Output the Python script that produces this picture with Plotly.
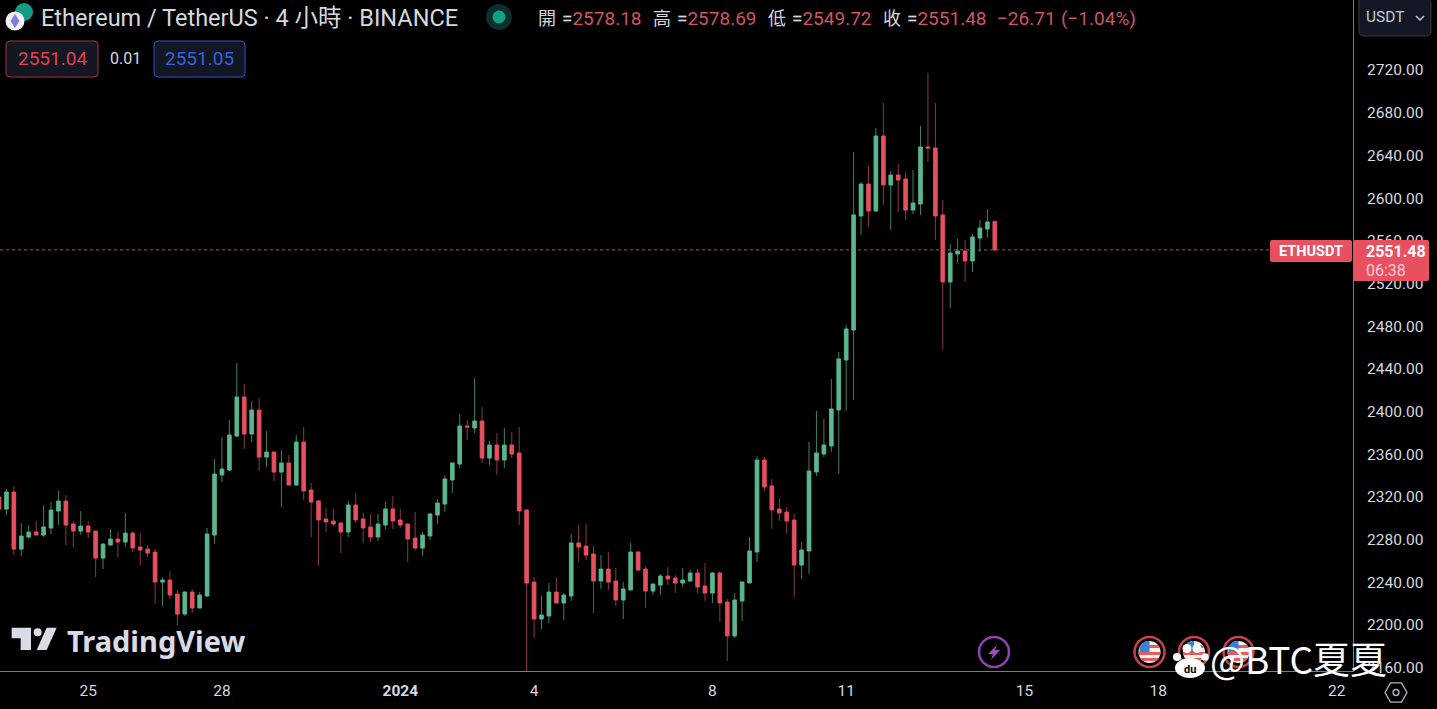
import math
import pandas as pd
import plotly.graph_objects as go

# ---- data ----
opens = [2319.9,2308.6,2324.5,2271.1,2282.4,2287.1,2284.3,2290.8,2306.7,2316.1,2294.6,2288.0,2292.7,2288.0,2262.7,2274.9,2280.5,2277.7,2286.1,2273.0,
2271.1,2268.3,2240.2,2242.1,2229.0,2210.2,2230.9,2215.9,2227.1,2284.3,2340.5,2345.2,2377.0,2413.6,2378.9,2401.4,
2357.4,2362.1,2343.3,2351.8,2331.1,2371.4,2326.5,2316.2,2299.3,2297.4,2295.5,2287.1,2312.4,2299.3,2291.8,2282.4,2293.7,2308.7,2298.4,2294.6,2281.5,2272.1,2283.4,2303.0,2313.3,2335.8,2350.8,2386.4,2384.6,2391.1,2356.4,2368.6,2354.6,2368.6,2361.1,
2307.7,2240.2,2205.6,2208.4,2230.9,2220.6,2227.1,2276.8,2274.0,2266.5,2241.2,2252.4,2241.2,2223.4,2232.8,2268.4,2252.4,2231.8,2237.4,2245.9,2244.0,2239.3,2241.2,2248.7,2236.5,2229.9,2248.7,2221.5,2189.7,2222.4,
2239.4,2268.4,2354.6,2330.3,2308.7,2305.9,2298.4,2256.2,2269.4,2343.4,2360.2,2367.7,2401.5,2448.3,
2476.4,2583.2,2613.2,2587.9,2658.2,2612.3,2621.6,2617.9,2588.8,2594.5,2647.9,2646.9,2584.2,2521.4,2547.6,2550.4,2541.1,2562.6,2571.0,2578.18]
highs = [2321.7,2327.4,2330.2,2295.5,2293.6,2297.4,2312.4,2315.2,2325.5,2321.7,2297.4,2306.7,2297.4,2288.0,2276.8,2289.9,2287.1,2304.9,2288.0,2286.1,
2274.9,2271.1,2244.9,2250.5,2232.7,2231.8,2233.7,2230.9,2290.8,2355.5,2376.1,2392.0,2445.4,2425.7,2409.8,2412.6,
2381.7,2362.1,2363.9,2359.3,2378.0,2385.5,2333.0,2317.1,2309.6,2308.7,2296.5,2316.2,2322.7,2304.9,2304.0,2304.0,2315.2,2320.8,2308.7,2295.5,2305.8,2287.1,2304.9,2318.0,2340.5,2351.8,2397.7,2392.1,2431.4,2404.2,2372.4,2379.9,2384.6,2380.8,2385.5,
2308.6,2244.9,2227.1,2239.3,2244.9,2229.9,2285.2,2293.7,2294.6,2274.0,2265.5,2268.4,2253.4,2240.2,2276.8,2269.3,2255.2,2238.4,2247.7,2254.3,2246.8,2253.4,2251.5,2252.4,2258.1,2249.6,2250.6,2224.3,2229.9,2241.2,
2282.5,2358.4,2357.4,2336.8,2319.0,2310.6,2304.0,2277.8,2371.5,2400.5,2393.0,2430.5,2455.8,2481.1,
2643.2,2615.1,2630.1,2665.7,2689.1,2625.4,2631.9,2624.4,2626.3,2667.5,2717.2,2689.1,2598.2,2557.0,2561.7,2560.7,2566.3,2579.5,2589.8,2578.69]
lows = [2307.7,2303.0,2265.5,2264.6,2280.5,2284.3,2282.4,2285.2,2293.6,2274.9,2273.0,2284.3,2281.4,2244.9,2252.4,2274.9,2263.6,2273.0,2268.3,2256.1,
2263.6,2219.6,2217.7,2224.3,2199.9,2208.4,2211.2,2215.9,2226.2,2275.8,2333.9,2344.2,2376.1,2364.8,2371.4,2344.2,
2348.0,2334.9,2310.5,2331.1,2331.1,2317.1,2282.4,2255.3,2287.1,2292.7,2267.4,2282.4,2295.5,2276.8,2277.7,2278.7,2289.9,2289.9,2290.9,2259.0,2270.2,2264.6,2279.6,2294.6,2305.8,2323.7,2347.1,2373.3,2379.9,2351.8,2349.9,2340.5,2347.1,2356.4,2293.7,
2150.0,2187.8,2196.2,2201.8,2220.6,2204.6,2222.4,2259.0,2260.9,2211.2,2233.7,2232.8,2217.8,2205.6,2232.8,2249.6,2215.9,2228.1,2228.1,2237.4,2229.9,2235.6,2240.2,2229.9,2222.4,2220.6,2202.8,2166.2,2187.8,2203.7,
2239.4,2259.0,2325.6,2290.0,2297.5,2285.3,2226.3,2243.1,2247.8,2339.6,2357.4,2362.1,2341.5,2400.5,
2410.8,2565.4,2572.9,2587.0,2593.5,2570.1,2587.0,2579.5,2585.1,2584.2,2633.8,2560.7,2457.7,2497.0,2539.2,2521.4,2530.7,2549.5,2562.6,2549.72]
closes = [2308.6,2324.5,2271.1,2283.3,2287.1,2284.3,2291.8,2307.7,2316.1,2293.6,2288.0,2292.7,2287.1,2262.7,2275.8,2280.5,2277.7,2286.1,2272.1,2270.2,
2267.4,2240.2,2242.1,2228.0,2210.2,2230.9,2215.9,2228.0,2285.2,2341.4,2346.1,2378.0,2413.6,2378.9,2401.4,2357.3,
2362.1,2343.3,2351.8,2331.1,2371.4,2325.5,2315.2,2298.4,2296.5,2294.6,2287.1,2312.4,2298.4,2290.9,2282.4,2294.6,2308.7,2297.4,2293.7,2280.5,2272.1,2284.3,2304.0,2314.3,2336.8,2351.8,2386.4,2385.5,2391.1,2356.4,2368.6,2354.6,2368.6,2360.2,2306.8,
2239.3,2205.6,2209.3,2230.9,2220.6,2228.1,2276.8,2273.0,2265.5,2241.2,2252.4,2240.2,2223.4,2233.7,2268.4,2251.5,2231.8,2238.4,2245.9,2243.1,2239.3,2242.1,2248.7,2235.6,2229.9,2248.7,2220.6,2189.7,2223.4,2240.2,
2269.4,2354.6,2329.3,2307.8,2305.0,2297.5,2256.2,2270.3,2344.3,2361.2,2368.7,2402.4,2449.3,2477.4,
2584.2,2613.2,2587.9,2658.2,2612.3,2621.6,2616.9,2588.8,2595.4,2647.9,2646.9,2583.2,2521.4,2548.5,2550.4,2541.1,2563.5,2572.0,2577.6,2551.48]

times = pd.date_range("2023-12-23 00:00", periods=len(opens), freq="4h")
tick_dates = ["2023-12-25", "2023-12-28", "2024-01-01", "2024-01-04", "2024-01-08", "2024-01-11", "2024-01-15", "2024-01-18", "2024-01-22"]
tick_labels = ["25", "28", "<b>2024</b>", "4", "8", "11", "15", "18", "22"]
price_ticks = list(range(2160, 2721, 40))
last_price = 2551.48

RED, GREEN = "#e8505f", "#5cb68e"
RED_W, GREEN_W = "#8a3a44", "#3f8068"
TXT = "#d6d8df"
W, H, PW, PH = 1437, 709, 1353, 671
FONT = "Roboto, 'Noto Sans CJK TC', sans-serif"

px = lambda x: x / PW
py = lambda y: 1 - y / PH

shapes, annos = [], []

def rrect(x0, y0, x1, y1, r, fill, line=None, lw=1):
    p = (f"M{px(x0+r)},{py(y0)} L{px(x1-r)},{py(y0)} Q{px(x1)},{py(y0)} {px(x1)},{py(y0+r)} "
         f"L{px(x1)},{py(y1-r)} Q{px(x1)},{py(y1)} {px(x1-r)},{py(y1)} L{px(x0+r)},{py(y1)} "
         f"Q{px(x0)},{py(y1)} {px(x0)},{py(y1-r)} L{px(x0)},{py(y0+r)} Q{px(x0)},{py(y0)} {px(x0+r)},{py(y0)} Z")
    shapes.append(dict(type="path", xref="paper", yref="paper", path=p, fillcolor=fill,
                       line=dict(color=line or fill, width=lw if line else 0), layer="above"))

def circ(cx, cy, r, fill, line=None, lw=0):
    shapes.append(dict(type="circle", xref="paper", yref="paper", x0=px(cx-r), x1=px(cx+r), y0=py(cy+r), y1=py(cy-r),
                       fillcolor=fill, line=dict(color=line or fill, width=lw), layer="above"))

def poly(pts, fill=None, line=None, lw=0):
    p = "M" + " L".join(f"{px(a)},{py(b)}" for a, b in pts) + " Z"
    shapes.append(dict(type="path", xref="paper", yref="paper", path=p, fillcolor=fill or "rgba(0,0,0,0)",
                       line=dict(color=line or "rgba(0,0,0,0)", width=lw), layer="above"))

def text(x, y, s, size, color, anchor="left", font=FONT):
    annos.append(dict(xref="paper", yref="paper", x=px(x), y=py(y), text=s, showarrow=False, xanchor=anchor,
                      yanchor="middle", xshift=0, borderpad=0, font=dict(family=font, size=size, color=color)))

# header: coin icon
circ(24, 12, 9, "#169c86")
circ(15, 21, 9.5, "#f2f2f6")
poly([(15, 14), (19.5, 21), (15, 28), (10.5, 21)], "#7f7fd8")
text(40, 18, "Ethereum / TetherUS · 4 小時 · BINANCE", 23.5, TXT)
circ(499, 17, 13, "#0b2f2a")
circ(499, 17, 6.5, "#0e9f86")

# OHLC legend
for lx, lab, vx, val in zip([537, 652, 767, 882], ["開", "高", "低", "收"], [561, 676, 791, 906],
                            ["2578.18", "2578.69", "2549.72", "2551.48"]):
    text(lx, 18, lab, 18, TXT)
    text(vx, 18, f"={val}", 19, "#cf5560")
    text(vx, 18, "=", 19, TXT)
text(996, 18, "−26.71", 19, "#cf5560")
text(1060, 18, "(−1.04%)", 19, "#cf5560")

# bid / ask boxes
rrect(6, 41, 98, 77, 4, "#131722", "#a8333e", 1)
text(52, 59, "2551.04", 19, "#e0414e", "center")
text(125, 59, "0.01", 16, "#d8dae0", "center")
rrect(154, 41, 245, 77, 4, "#131722", "#2f55c8", 1)
text(199, 59, "2551.05", 19, "#2f62e0", "center")

# currency button
rrect(1359, -3, 1431, 36, 5, "#141824", "#363a45", 1)
text(1365, 17, "USDT", 15.5, "#c3cad6")
shapes.append(dict(type="path", xref="paper", yref="paper", layer="above",
                   path=f"M{px(1416)},{py(16)} L{px(1420)},{py(20)} L{px(1424)},{py(16)}",
                   line=dict(color="#c3cad6", width=1.5)))

# last-price tags
rrect(1270, 240, 1352, 262, 2, RED)
text(1311, 251, "<b>ETHUSDT</b>", 14.5, "#ffffff", "center")
rrect(1353, 240, 1429, 281, 2, RED)
text(1365, 251, "<b>2551.48</b>", 16, "#ffffff")
text(1365, 270, "06:38", 16, "#f8cfd3")

# TradingView logo
def tv(pts):
    return [(a / 3, 615 + b / 3) for a, b in pts]
poly(tv([(35, 38), (93, 38), (93, 105), (62, 105), (62, 70), (35, 70)]), "#d9dbe6")
circ(113 / 3, 615 + 52 / 3, 4, "#d9dbe6")
poly(tv([(140, 38), (170, 38), (140, 105), (110, 105)]), "#d9dbe6")
text(66, 640, "<b>TradingView</b>", 29, "#d9dbe6", font="'Noto Sans', sans-serif")

# event icons
circ(994, 652, 15, "#000000", "#8e44ad", 2.5)
poly([(997, 645), (988, 654), (993, 654), (991, 660), (1000, 650), (995, 650)], "#9c4fc0")

def band(cx, cy, r, y0, y1):
    pts = []
    for k in range(9):
        y = y0 + (y1 - y0) * k / 8
        pts.append((cx + math.sqrt(max(r*r - (y-cy)**2, 0)), y))
    for k in range(9):
        y = y1 - (y1 - y0) * k / 8
        pts.append((cx - math.sqrt(max(r*r - (y-cy)**2, 0)), y))
    return pts

for cx in [1149.5, 1194, 1238.5]:
    circ(cx, 652, 15, "#000000", "#c9414d", 2.5)
    circ(cx, 652, 11, "#f1f1f1")
    poly(band(cx, 652, 11, 645, 648), "#e35d5d")
    poly(band(cx, 652, 11, 652, 655), "#e35d5d")
    poly(band(cx, 652, 11, 658, 661), "#e35d5d")
    poly([(cx-10, 652), (cx-10, 646), (cx-5, 641.5), (cx, 641), (cx, 652)], "#3d7fd6")

# watermark
for tx, ty, tr in [(1177, 657, 4), (1187, 648.5, 4.5), (1197, 648.5, 4.5), (1205, 657, 3.8)]:
    circ(tx, ty, tr, "#ffffff")
shapes.append(dict(type="circle", xref="paper", yref="paper", x0=px(1175), x1=px(1205), y0=py(678), y1=py(658),
                   fillcolor="#ffffff", line=dict(width=0), layer="above"))
text(1190, 669, "<b>du</b>", 11, "#000000", "center")
text(1209, 658, "@BTC夏夏", 37, "#ffffff", font="'Noto Sans CJK SC', sans-serif")

# settings hexagon
hc = (1396, 692.5)
poly([(hc[0] + 11 * math.cos(math.radians(a)), hc[1] + 11 * math.sin(math.radians(a))) for a in range(0, 360, 60)],
     None, "#b2b5be", 1.3)
circ(hc[0], hc[1], 3, "rgba(0,0,0,0)", "#b2b5be", 1.3)

# dotted last-price line
shapes.append(dict(type="line", xref="paper", yref="y", x0=0, x1=px(1270), y0=last_price, y1=last_price,
                   line=dict(color="#a8505a", width=1, dash="dot"), layer="below"))

fig = go.Figure()
# wicks
fig.add_trace(go.Candlestick(x=times, open=opens, high=highs, low=lows, close=closes,
                             increasing=dict(line=dict(color=GREEN_W, width=1), fillcolor=GREEN_W),
                             decreasing=dict(line=dict(color=RED_W, width=1), fillcolor=RED_W),
                             whiskerwidth=0, showlegend=False))
# bright bodies on top
fig.add_trace(go.Candlestick(x=times, open=opens, close=closes,
                             high=[max(a, b) for a, b in zip(opens, closes)],
                             low=[min(a, b) for a, b in zip(opens, closes)],
                             increasing=dict(line=dict(color=GREEN, width=0.5), fillcolor=GREEN),
                             decreasing=dict(line=dict(color=RED, width=0.5), fillcolor=RED),
                             whiskerwidth=0, showlegend=False))

fig.update_layout(
    width=W, height=H, margin=dict(l=0, r=W - PW, t=0, b=H - PH),
    paper_bgcolor="#000000", plot_bgcolor="#000000",
    font=dict(family=FONT, color=TXT, size=15.5), showlegend=False, hovermode=False,
    shapes=shapes, annotations=annos, boxgap=0.3,
    xaxis=dict(type="date", range=["2023-12-23 00:32", "2024-01-22 08:48"], rangeslider=dict(visible=False),
               tickmode="array", tickvals=tick_dates, ticktext=tick_labels, showgrid=False, zeroline=False,
               showline=True, linecolor="#7d7d7d", linewidth=1, ticks="", ticklabelstandoff=5,
               tickfont=dict(size=15.5, color=TXT)),
    yaxis=dict(side="right", range=[2156.9, 2785.6], tickmode="array", tickvals=price_ticks,
               ticktext=[f"{v:.2f}" for v in price_ticks], showgrid=False, zeroline=False,
               showline=True, linecolor="#7d7d7d", linewidth=1, ticks="", ticklabelstandoff=10,
               tickfont=dict(size=15.5, color=TXT)),
)

fig.write_html("out.html", config={"displayModeBar": False},
               post_script="document.body.style.margin='0';document.body.style.background='#000';")
